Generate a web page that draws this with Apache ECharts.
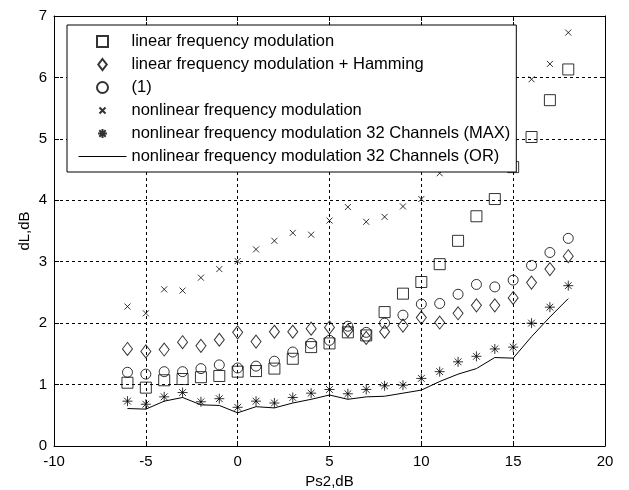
<!DOCTYPE html>
<html>
<head>
<meta charset="utf-8">
<script src="https://cdn.jsdelivr.net/npm/echarts@6/dist/echarts.min.js"></script>
<style>
html,body{margin:0;padding:0;background:#fff;}
#chart{width:629px;height:490px;}
</style>
</head>
<body>
<div id="chart"></div>
<script>
var ps2 = [-6,-5,-4,-3,-2,-1,0,1,2,3,4,5,6,7,8,9,10,11,12,13,14,15,16,17,18];
var lfm = [1.03,0.95,1.07,1.09,1.12,1.14,1.21,1.22,1.26,1.42,1.61,1.67,1.85,1.80,2.18,2.48,2.67,2.96,3.34,3.74,4.02,4.54,5.03,5.63,6.13];
var lfmHamming = [1.58,1.54,1.57,1.69,1.63,1.73,1.85,1.70,1.86,1.86,1.91,1.93,1.88,1.76,1.86,1.96,2.09,2.01,2.16,2.29,2.29,2.41,2.66,2.88,3.09];
var eq1 = [1.20,1.17,1.21,1.21,1.26,1.32,1.27,1.30,1.38,1.53,1.67,1.72,1.95,1.85,2.00,2.13,2.31,2.32,2.47,2.63,2.59,2.70,2.94,3.15,3.38];
var nlfm = [2.27,2.16,2.55,2.53,2.74,2.88,3.01,3.20,3.34,3.47,3.44,3.67,3.89,3.65,3.73,3.90,4.02,4.44,4.70,5.00,5.30,5.60,5.97,6.22,6.73];
var nlfm32Max = [0.73,0.68,0.80,0.87,0.72,0.77,0.63,0.73,0.70,0.79,0.86,0.92,0.85,0.92,0.98,0.99,1.10,1.21,1.37,1.46,1.58,1.61,2.00,2.26,2.61];
var nlfm32Or = [0.61,0.60,0.73,0.79,0.67,0.66,0.54,0.64,0.62,0.70,0.76,0.83,0.76,0.80,0.81,0.86,0.91,1.05,1.17,1.26,1.44,1.43,1.78,2.10,2.40];
var seriesNames = [
  'linear frequency modulation',
  'linear frequency modulation + Hamming',
  '(1)',
  'nonlinear frequency modulation',
  'nonlinear frequency modulation 32 Channels (MAX)',
  'nonlinear frequency modulation 32 Channels (OR)'
];
var xTicks = {min:-10, max:20, interval:5};
var yTicks = {min:0, max:7, interval:1};

function pairs(ys){ return ps2.map(function(x,i){ return [x, ys[i]]; }); }

var FONT = '"Liberation Sans", Arial, sans-serif';
var crossPath = 'path://M0,0L10,10M10,0L0,10';
var starPath = 'path://M5,0L5,10M0,5L10,5M1.6,1.6L8.4,8.4M8.4,1.6L1.6,8.4';
var squareIcon = 'path://M0,0L10,0L10,10L0,10Z';
var diamondIcon = 'path://M5,0L10,6.5L5,13L0,6.5Z';
var crossIcon = 'path://M0,0L0.01,0M2.5,2.5L8.5,8.5M8.5,2.5L2.5,8.5M11,11L11.01,11';
var starIcon = 'path://M0,0L0.01,0M5.5,1L5.5,10M1,5.5L10,5.5M2.3,2.3L8.7,8.7M8.7,2.3L2.3,8.7M11,11L11.01,11';
var lineIcon = 'path://M0,0L0,0.01M0,5L48,5M48,10L48,10.01';

var hollow = {color:'rgba(0,0,0,0)', borderColor:'#000', borderWidth:1};

var chart = echarts.init(document.getElementById('chart'), null, {renderer:'canvas'});
var axisLineStyle = {color:'#000', width:1};
var option = {
  backgroundColor:'#fff',
  animation:false,
  grid:{left:54, right:24, top:16, bottom:44, containLabel:false, outerBoundsMode:'none'},
  xAxis:[{
    type:'value', min:xTicks.min, max:xTicks.max, interval:xTicks.interval,
    name:'Ps2,dB', nameLocation:'middle', nameGap:28,
    nameTextStyle:{fontFamily:FONT, fontSize:15, color:'#000'},
    axisLine:{show:true, onZero:false, lineStyle:axisLineStyle},
    axisTick:{show:true, inside:true, length:5, lineStyle:axisLineStyle},
    axisLabel:{fontFamily:FONT, fontSize:15, color:'#000', margin:8},
    splitLine:{show:true, lineStyle:{color:'#000', width:1, type:[3,3]}}
  },{
    type:'value', position:'top', min:xTicks.min, max:xTicks.max, interval:xTicks.interval,
    axisLine:{show:true, onZero:false, lineStyle:axisLineStyle},
    axisTick:{show:true, inside:true, length:5, lineStyle:axisLineStyle},
    axisLabel:{show:false}, splitLine:{show:false}
  }],
  yAxis:[{
    type:'value', min:yTicks.min, max:yTicks.max, interval:yTicks.interval,
    name:'dL,dB', nameLocation:'middle', nameGap:22, nameMoveOverlap:false,
    nameTextStyle:{fontFamily:FONT, fontSize:15, color:'#000'},
    axisLine:{show:true, onZero:false, lineStyle:axisLineStyle},
    axisTick:{show:true, inside:true, length:5, lineStyle:axisLineStyle},
    axisLabel:{fontFamily:FONT, fontSize:15, color:'#000', margin:7},
    splitLine:{show:true, lineStyle:{color:'#000', width:1, type:[3,3]}}
  },{
    type:'value', position:'right', min:yTicks.min, max:yTicks.max, interval:yTicks.interval,
    axisLine:{show:true, onZero:false, lineStyle:axisLineStyle},
    axisTick:{show:true, inside:true, length:5, lineStyle:axisLineStyle},
    axisLabel:{show:false}, splitLine:{show:false}
  }],
  legend:{
    left:67, top:25, orient:'vertical', selectedMode:false,
    backgroundColor:'#fff', borderColor:'#000', borderWidth:1, borderRadius:0,
    padding:[8,6,7,11], itemWidth:48, itemHeight:11, itemGap:6,
    textStyle:{fontFamily:FONT, fontSize:16.5, color:'#000'},
    data:[
      {name:seriesNames[0], icon:squareIcon},
      {name:seriesNames[1], icon:diamondIcon},
      {name:seriesNames[2], icon:'circle'},
      {name:seriesNames[3], icon:crossIcon},
      {name:seriesNames[4], icon:starIcon},
      {name:seriesNames[5], icon:lineIcon, itemStyle:{color:'rgba(0,0,0,0)', borderColor:'#000', borderWidth:1}}
    ]
  },
  series:[
    {name:seriesNames[0], type:'scatter', data:pairs(lfm), symbol:'rect', symbolSize:11, itemStyle:hollow, symbolKeepAspect:true},
    {name:seriesNames[1], type:'scatter', data:pairs(lfmHamming), symbol:'diamond', symbolSize:[10,13], itemStyle:hollow, symbolKeepAspect:true},
    {name:seriesNames[2], type:'scatter', data:pairs(eq1), symbol:'circle', symbolSize:10, itemStyle:hollow, symbolKeepAspect:true},
    {name:seriesNames[3], type:'scatter', data:pairs(nlfm), symbol:crossPath, symbolSize:6, itemStyle:hollow, symbolKeepAspect:true},
    {name:seriesNames[4], type:'scatter', data:pairs(nlfm32Max), symbol:starPath, symbolSize:10, itemStyle:hollow, symbolKeepAspect:true},
    {name:seriesNames[5], type:'line', data:pairs(nlfm32Or), symbol:'none', showSymbol:false,
      lineStyle:{color:'#000', width:1}, itemStyle:{color:'#000'}}
  ]
};
chart.setOption(option);
</script>
</body>
</html>
